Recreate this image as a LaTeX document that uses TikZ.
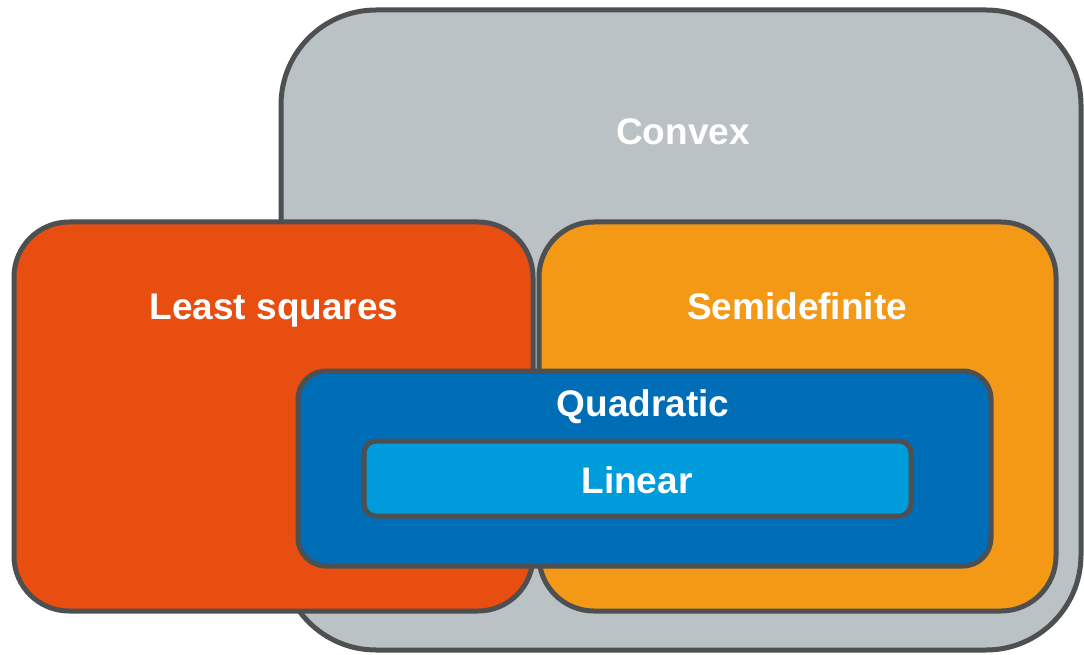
\documentclass[tikz,border=0pt]{standalone}
\usepackage{fontspec}
\setmainfont{Liberation Sans}
\usepackage{tikz}
\usetikzlibrary{positioning}

\definecolor{setline}{HTML}{4D4F51}
\definecolor{convexgray}{HTML}{BBC2C5}
\definecolor{lsqred}{HTML}{E84E10}
\definecolor{sdporange}{HTML}{F39915}
\definecolor{quadblue}{HTML}{006EB7}
\definecolor{linblue}{HTML}{009BDB}

\tikzset{
  setbox/.style={draw=setline,line width=5pt,inner sep=0pt},
  setname/.style={text=white,font=\fontsize{37}{44}\selectfont\bfseries,anchor=base,inner sep=0pt}
}

\begin{document}
\begin{tikzpicture}[x=1pt,y=-1pt]
		\useasboundingbox (0,0) rectangle (1084,655);
		% the sets, largest first
		\node[setbox,fill=convexgray,rounded corners=95pt,minimum width=800pt,minimum height=640pt] (convex) at (681,330) {};
		\node[setbox,fill=lsqred,rounded corners=55pt,minimum width=519pt,minimum height=389pt] (lsq) at (273.5,416.5) {};
		\node[setbox,fill=sdporange,rounded corners=55pt,minimum width=517pt,minimum height=389pt] (sdp) at (797.5,416.5) {};
		\node[setbox,fill=quadblue,rounded corners=28pt,minimum width=693pt,minimum height=195pt] (quad) at (644.5,468.5) {};
		\node[setbox,fill=linblue,rounded corners=12pt,minimum width=547pt,minimum height=75pt] (lin) at (637.5,478.5) {};
		% names
		\node[setname] (convexname) at (683,145) {Convex};
		\node[setname] (lsqname) at (274,319) {Least squares};
		\node[setname] (sdpname) at (797,319) {Semidefinite};
		\node[setname] (quadname) at (643,416) {Quadratic};
		\node[setname] (linname) at (637,493) {Linear};
	\end{tikzpicture}
\end{document}
